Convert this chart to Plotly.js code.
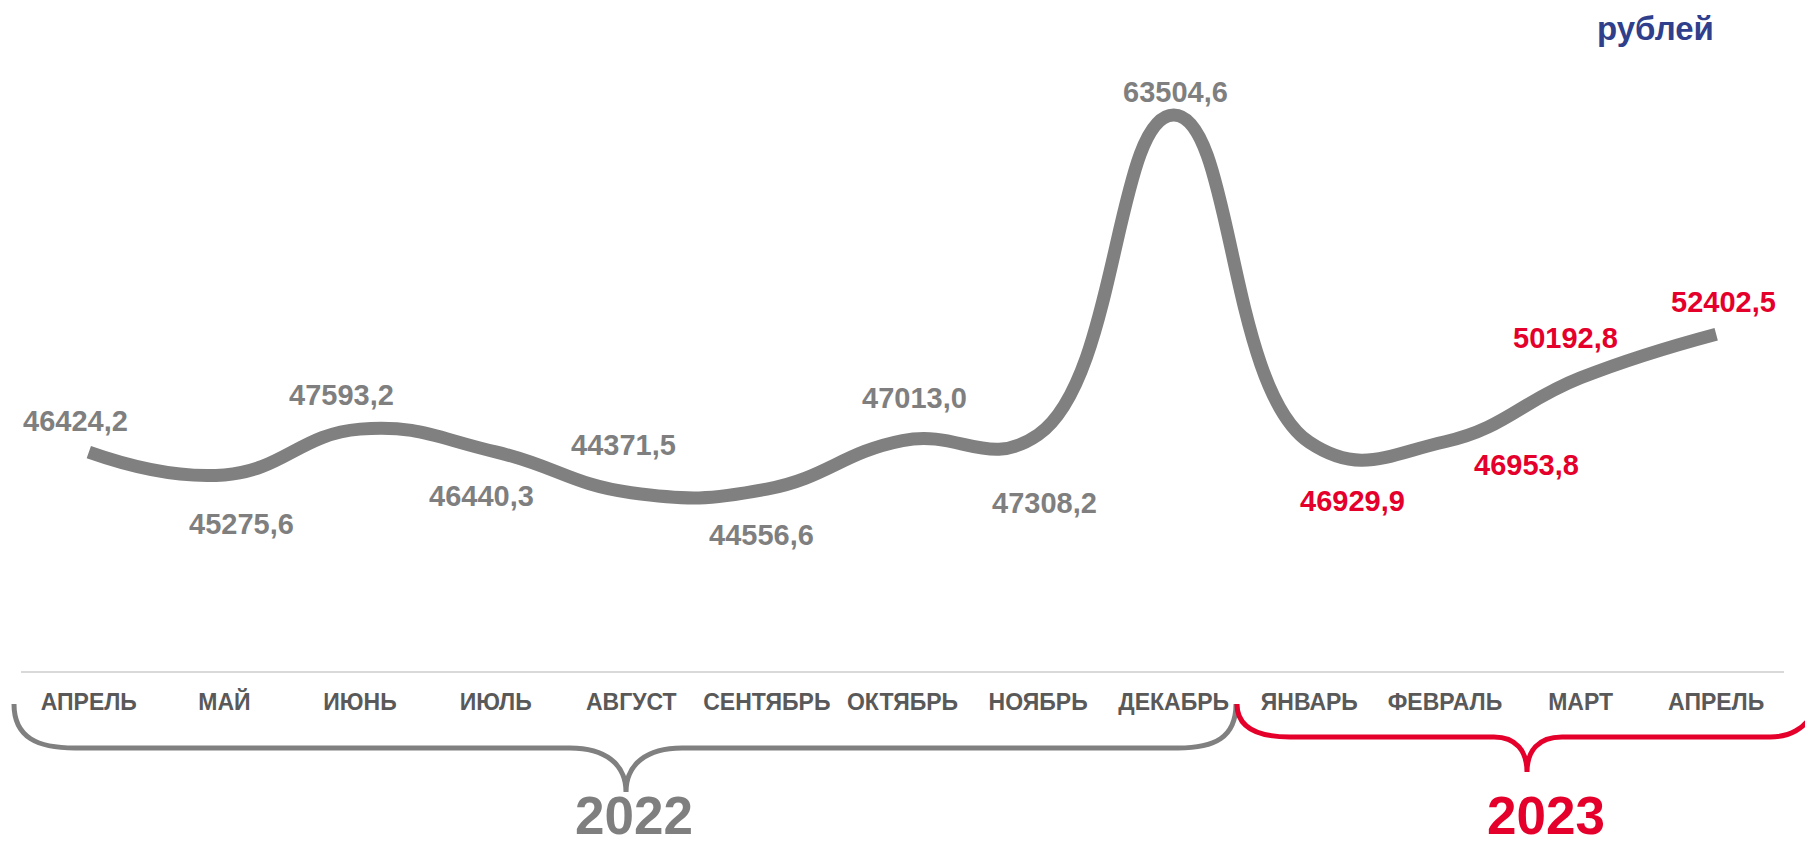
<!DOCTYPE html>
<html>
<head>
<meta charset="utf-8">
<script src="https://cdn.plot.ly/plotly-3.0.1.min.js"></script>
<style>html,body{margin:0;padding:0;background:#fff;}#chart{width:1805px;height:847px;}</style>
</head>
<body>
<div id="chart"></div>
<script>
// ---- data ----
var months = ["АПРЕЛЬ","МАЙ","ИЮНЬ","ИЮЛЬ","АВГУСТ","СЕНТЯБРЬ","ОКТЯБРЬ","НОЯБРЬ","ДЕКАБРЬ","ЯНВАРЬ","ФЕВРАЛЬ","МАРТ","АПРЕЛЬ"];
var values = [46424.2,45275.6,47593.2,46440.3,44371.5,44556.6,47013.0,47308.2,63504.6,46929.9,46953.8,50192.8,52402.5];
var years  = [2022,2022,2022,2022,2022,2022,2022,2022,2022,2023,2023,2023,2023];
var unitLabel = "рублей";

// ---- styling ----
var GRAY = "#7f7f7f", RED = "#e4002b", NAVY = "#2f3f8c", TICK = "#595959";
var FONT = "Liberation Sans, Arial, sans-serif";
var W = 1805, H = 847, L = 21, R = 1784, T = 60, B = 671;
function px(x){ return (x - L) / (R - L); }
function py(y){ return (B - y) / (B - T); }
function path(cmds){
  return cmds.map(function(c){
    var s = c[0];
    for (var i = 1; i < c.length; i += 2) s += " " + px(c[i]).toFixed(5) + "," + py(c[i+1]).toFixed(5);
    return s;
  }).join(" ");
}
// label offsets (pixels) relative to each point
var offX = [-13, 17,-19,-14, -8, -5, 12,  6,  2, 43, 82,-15,  7];
var offY = [ 31,-49, 34,-44, 48,-46, 43,-68, 23,-59,-23, 40, 32];

var xs = months.map(function(_, i){ return i; });
var fmt = function(v){ return v.toFixed(1).replace(".", ","); };

var annotations = values.map(function(v, i){
  return {
    x: i, y: v, xref: "x", yref: "y", xanchor: "center", yanchor: "middle",
    text: fmt(v), showarrow: false,
    xshift: offX[i], yshift: offY[i],
    font: {family: FONT, size: 29, color: years[i] === 2022 ? GRAY : RED, weight: "bold"}
  };
});
annotations.push({xref:"paper", yref:"paper", x: px(1655), y: py(29), xanchor:"center", yanchor:"middle",
  text: unitLabel, showarrow:false, font:{family:FONT, size:33, color:NAVY, weight:"bold"}});
annotations.push({xref:"paper", yref:"paper", x: px(634), y: py(815), xanchor:"center", yanchor:"middle",
  text: "2022", showarrow:false, font:{family:FONT, size:53, color:GRAY, weight:"bold"}});
annotations.push({xref:"paper", yref:"paper", x: px(1546), y: py(815), xanchor:"center", yanchor:"middle",
  text: "2023", showarrow:false, font:{family:FONT, size:53, color:RED, weight:"bold"}});

var grayBrace = path([
  ["M", 14,704], ["C", 14,738, 38,748, 75,748], ["L", 570,748], ["C", 605,748, 626,764, 626,792],
  ["M", 626,792], ["C", 626,764, 647,748, 682,748], ["L", 1178,748], ["C", 1214,748, 1236,738, 1236,704]
]);
var redBrace = path([
  ["M", 1237,704], ["C", 1237,728, 1258,737, 1290,737], ["L", 1494,737], ["C", 1516,737, 1527,751, 1527,772],
  ["M", 1527,772], ["C", 1527,751, 1538,737, 1562,737], ["L", 1770,737], ["C", 1790,737, 1805,728, 1812,714]
]);

var shapes = [
  {type:"path", xref:"paper", yref:"paper", path: grayBrace, line:{color:"#808080", width:5}},
  {type:"path", xref:"paper", yref:"paper", path: redBrace, line:{color:RED, width:5}}
];

var trace = {
  x: xs, y: values, type: "scatter", mode: "lines",
  line: {color: "#808080", width: 13, shape: "spline", smoothing: 1.3},
  hoverinfo: "skip"
};

var layout = {
  width: W, height: H,
  margin: {l: L, r: W - R, t: T, b: H - B, pad: 0},
  paper_bgcolor: "#fff", plot_bgcolor: "#fff",
  showlegend: false,
  xaxis: {
    range: [-0.5, 12.5], tickmode: "array", tickvals: xs, ticktext: months,
    showgrid: false, zeroline: false, showline: true, linecolor: "#d9d9d9", linewidth: 2,
    ticks: "outside", ticklen: 9, tickcolor: "rgba(0,0,0,0)",
    tickfont: {family: FONT, size: 23, color: TICK, weight: "bold"}, fixedrange: true
  },
  yaxis: {range: [35343, 66290], visible: false, showgrid: false, zeroline: false, fixedrange: true},
  annotations: annotations,
  shapes: shapes
};

Plotly.newPlot("chart", [trace], layout, {displayModeBar: false, staticPlot: true});
</script>
</body>
</html>
